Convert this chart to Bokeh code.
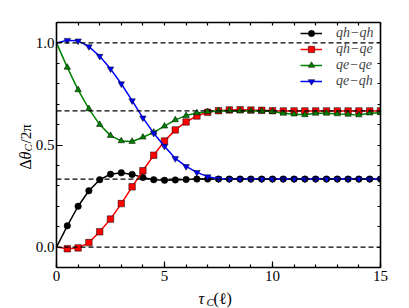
import math
from bokeh.plotting import figure
from bokeh.models import (LinearAxis, FixedTicker, Span, Legend, LegendItem,
                          Range1d, PrintfTickFormatter)
from bokeh.layouts import row, column
from bokeh.core.properties import value
from bokeh.embed import file_html
from bokeh.resources import INLINE

# ---- data ----
tau = [0.0, 0.5, 1.0, 1.5, 2.0, 2.5, 3.0, 3.5, 4.0, 4.5, 5.0, 5.5, 6.0, 6.5,
       7.0, 7.5, 8.0, 8.5, 9.0, 9.5, 10.0, 10.5, 11.0, 11.5, 12.0, 12.5,
       13.0, 13.5, 14.0, 14.5, 15.0]

qh_qh = [0.0, 0.104, 0.200, 0.276, 0.330, 0.357, 0.364, 0.356, 0.341, 0.330,
         0.327, 0.329, 0.331, 0.333, 0.333, 0.333, 0.333, 0.333, 0.333, 0.333,
         0.333, 0.333, 0.333, 0.333, 0.333, 0.333, 0.333, 0.333, 0.333, 0.333,
         0.333]

qh_qe = [0.0, -0.008, -0.004, 0.022, 0.075, 0.137, 0.213, 0.295, 0.374, 0.450,
         0.519, 0.574, 0.613, 0.642, 0.660, 0.668, 0.672, 0.673, 0.671, 0.670,
         0.668, 0.667, 0.667, 0.667, 0.667, 0.667, 0.667, 0.667, 0.667, 0.667,
         0.667]

qe_qe = [1.0, 0.880, 0.770, 0.677, 0.600, 0.546, 0.520, 0.517, 0.538, 0.562,
         0.592, 0.623, 0.644, 0.657, 0.663, 0.667, 0.668, 0.667, 0.667, 0.666,
         0.664, 0.655, 0.651, 0.648, 0.655, 0.655, 0.652, 0.650, 0.647, 0.656,
         0.658]

qe_qh = [1.0, 1.013, 1.010, 0.982, 0.935, 0.873, 0.800, 0.717, 0.633, 0.558,
         0.494, 0.434, 0.395, 0.366, 0.345, 0.335, 0.333, 0.333, 0.333, 0.333,
         0.333, 0.333, 0.333, 0.333, 0.333, 0.333, 0.333, 0.333, 0.333, 0.333,
         0.333]

series_labels = ["qh\u2212qh", "qh\u2212qe", "qe\u2212qe", "qe\u2212qh"]
series_colors = ["black", "#ff0000", "#008000", "#0000ff"]
series_markers = ["circle", "square", "triangle", "inverted_triangle"]
ref_levels = [0.0, 1.0 / 3.0, 2.0 / 3.0, 1.0]

x_major = [0, 5, 10, 15]
x_minor = [0, 1, 2, 3, 4, 5, 6, 7, 8, 9, 10, 11, 12, 13, 14, 15]
y_major = [0.0, 0.5, 1.0]
y_minor = [-0.1, 0.0, 0.1, 0.2, 0.3, 0.4, 0.5, 0.6, 0.7, 0.8, 0.9, 1.0, 1.1]

SERIF = "Liberation Serif"

FRAME_W, FRAME_H = 327, 245
TOP, BOTTOM, LEFT, RIGHT = 22, 20, 21, 29
YLAB_W, XLAB_H = 32, 21

p = figure(width=LEFT + FRAME_W + RIGHT, height=TOP + FRAME_H + BOTTOM,
           x_range=Range1d(0, 15), y_range=Range1d(-0.1, 1.1),
           output_backend="svg", toolbar_location=None,
           min_border_left=LEFT, min_border_right=RIGHT,
           min_border_top=TOP, min_border_bottom=BOTTOM)
p.grid.visible = False
p.outline_line_color = None
p.border_fill_alpha = 0

top_ax = LinearAxis()
right_ax = LinearAxis()
p.add_layout(top_ax, "above")
p.add_layout(right_ax, "right")

bottom_ax = p.below[0]
left_ax = p.left[0]
bottom_ax.ticker = FixedTicker(ticks=x_major, minor_ticks=x_minor)
left_ax.ticker = FixedTicker(ticks=y_major, minor_ticks=y_minor)
left_ax.formatter = PrintfTickFormatter(format="%.1f")
top_ax.ticker = FixedTicker(ticks=[], minor_ticks=x_minor)
right_ax.ticker = FixedTicker(ticks=[], minor_ticks=y_minor)

for ax in [bottom_ax, left_ax, top_ax, right_ax]:
    ax.axis_line_width = 1.6
    ax.axis_line_color = "black"
    ax.major_tick_in = 6
    ax.major_tick_out = 0
    ax.minor_tick_in = 3
    ax.minor_tick_out = 0
    ax.major_tick_line_width = 1.2
    ax.minor_tick_line_width = 1.2
    ax.major_label_text_font = SERIF
    ax.major_label_text_font_size = "15px"
    ax.major_label_text_color = "black"

bottom_ax.major_label_standoff = 3
left_ax.major_label_standoff = 2

for lvl in ref_levels:
    p.add_layout(Span(location=lvl, dimension="width", line_color="black",
                      line_dash="5 3", line_width=1.3))

series = [qh_qh, qh_qe, qe_qe, qe_qh]
items = []
for vals, lab, col, mk in zip(series, series_labels, series_colors,
                              series_markers):
    lr = p.line(tau, vals, line_color=col, line_width=1.5)
    sr = p.scatter(tau[1:], vals[1:], marker=mk, size=6.5, fill_color=col,
                   line_color="black", line_width=0.5)
    items.append(LegendItem(label=lab, renderers=[lr, sr]))

# legend anchored by its bottom-left corner, in pixels from frame bottom-left
legend = Legend(items=items, location=(242, 176))
legend.border_line_alpha = 0
legend.background_fill_alpha = 0
legend.label_text_font = SERIF
legend.label_text_font_style = "italic"
legend.label_text_font_size = "14px"
legend.glyph_width = 22
legend.glyph_height = 16
legend.label_height = 16
legend.spacing = 0
legend.padding = 2
legend.margin = 0
legend.label_standoff = 14
p.add_layout(legend)

# ---- y-axis title (rotated), in its own narrow panel, pixel coordinates ----
yfig = figure(width=YLAB_W, height=TOP + FRAME_H + BOTTOM,
              x_range=Range1d(0, YLAB_W), y_range=Range1d(0, FRAME_H),
              output_backend="svg", toolbar_location=None,
              x_axis_location=None, y_axis_location=None,
              min_border_left=0, min_border_right=0,
              min_border_top=TOP, min_border_bottom=BOTTOM)
yfig.grid.visible = False
yfig.outline_line_color = None
yfig.border_fill_alpha = 0
ang = math.pi / 2
yt = dict(angle=ang, text_align="left", text_baseline="alphabetic",
          text_color="black", text_font=value(SERIF))
yfig.text(x=[25], y=[98], text=["\u0394"], text_font_size="16px", **yt)
yfig.text(x=[25], y=[108], text=["\u03b8"], text_font_size="16px",
          text_font_style="italic", **yt)
yfig.text(x=[27.5], y=[116], text=["C"], text_font_size="11px",
          text_font_style="italic", **yt)
yfig.text(x=[25], y=[124], text=["/2\u03c0"], text_font_size="15px", **yt)

# ---- x-axis title, in its own strip, pixel coordinates ----
xfig = figure(width=YLAB_W + LEFT + FRAME_W + RIGHT, height=XLAB_H,
              x_range=Range1d(0, FRAME_W), y_range=Range1d(0, XLAB_H),
              output_backend="svg", toolbar_location=None,
              x_axis_location=None, y_axis_location=None,
              min_border_left=YLAB_W + LEFT, min_border_right=RIGHT,
              min_border_top=0, min_border_bottom=0)
xfig.grid.visible = False
xfig.outline_line_color = None
xt = dict(text_align="left", text_baseline="alphabetic", text_color="black",
          text_font=value(SERIF))
xfig.text(x=[145], y=[10], text=["\u03c4"], text_font_size="16px",
          text_font_style="italic", **xt)
xfig.text(x=[153], y=[7], text=["C"], text_font_size="11px",
          text_font_style="italic", **xt)
xfig.text(x=[160], y=[10], text=["(\u2113)"], text_font_size="16px", **xt)

layout = column(row(yfig, p, spacing=0), xfig, spacing=0)

open("out.html", "w").write(file_html(layout, INLINE))
